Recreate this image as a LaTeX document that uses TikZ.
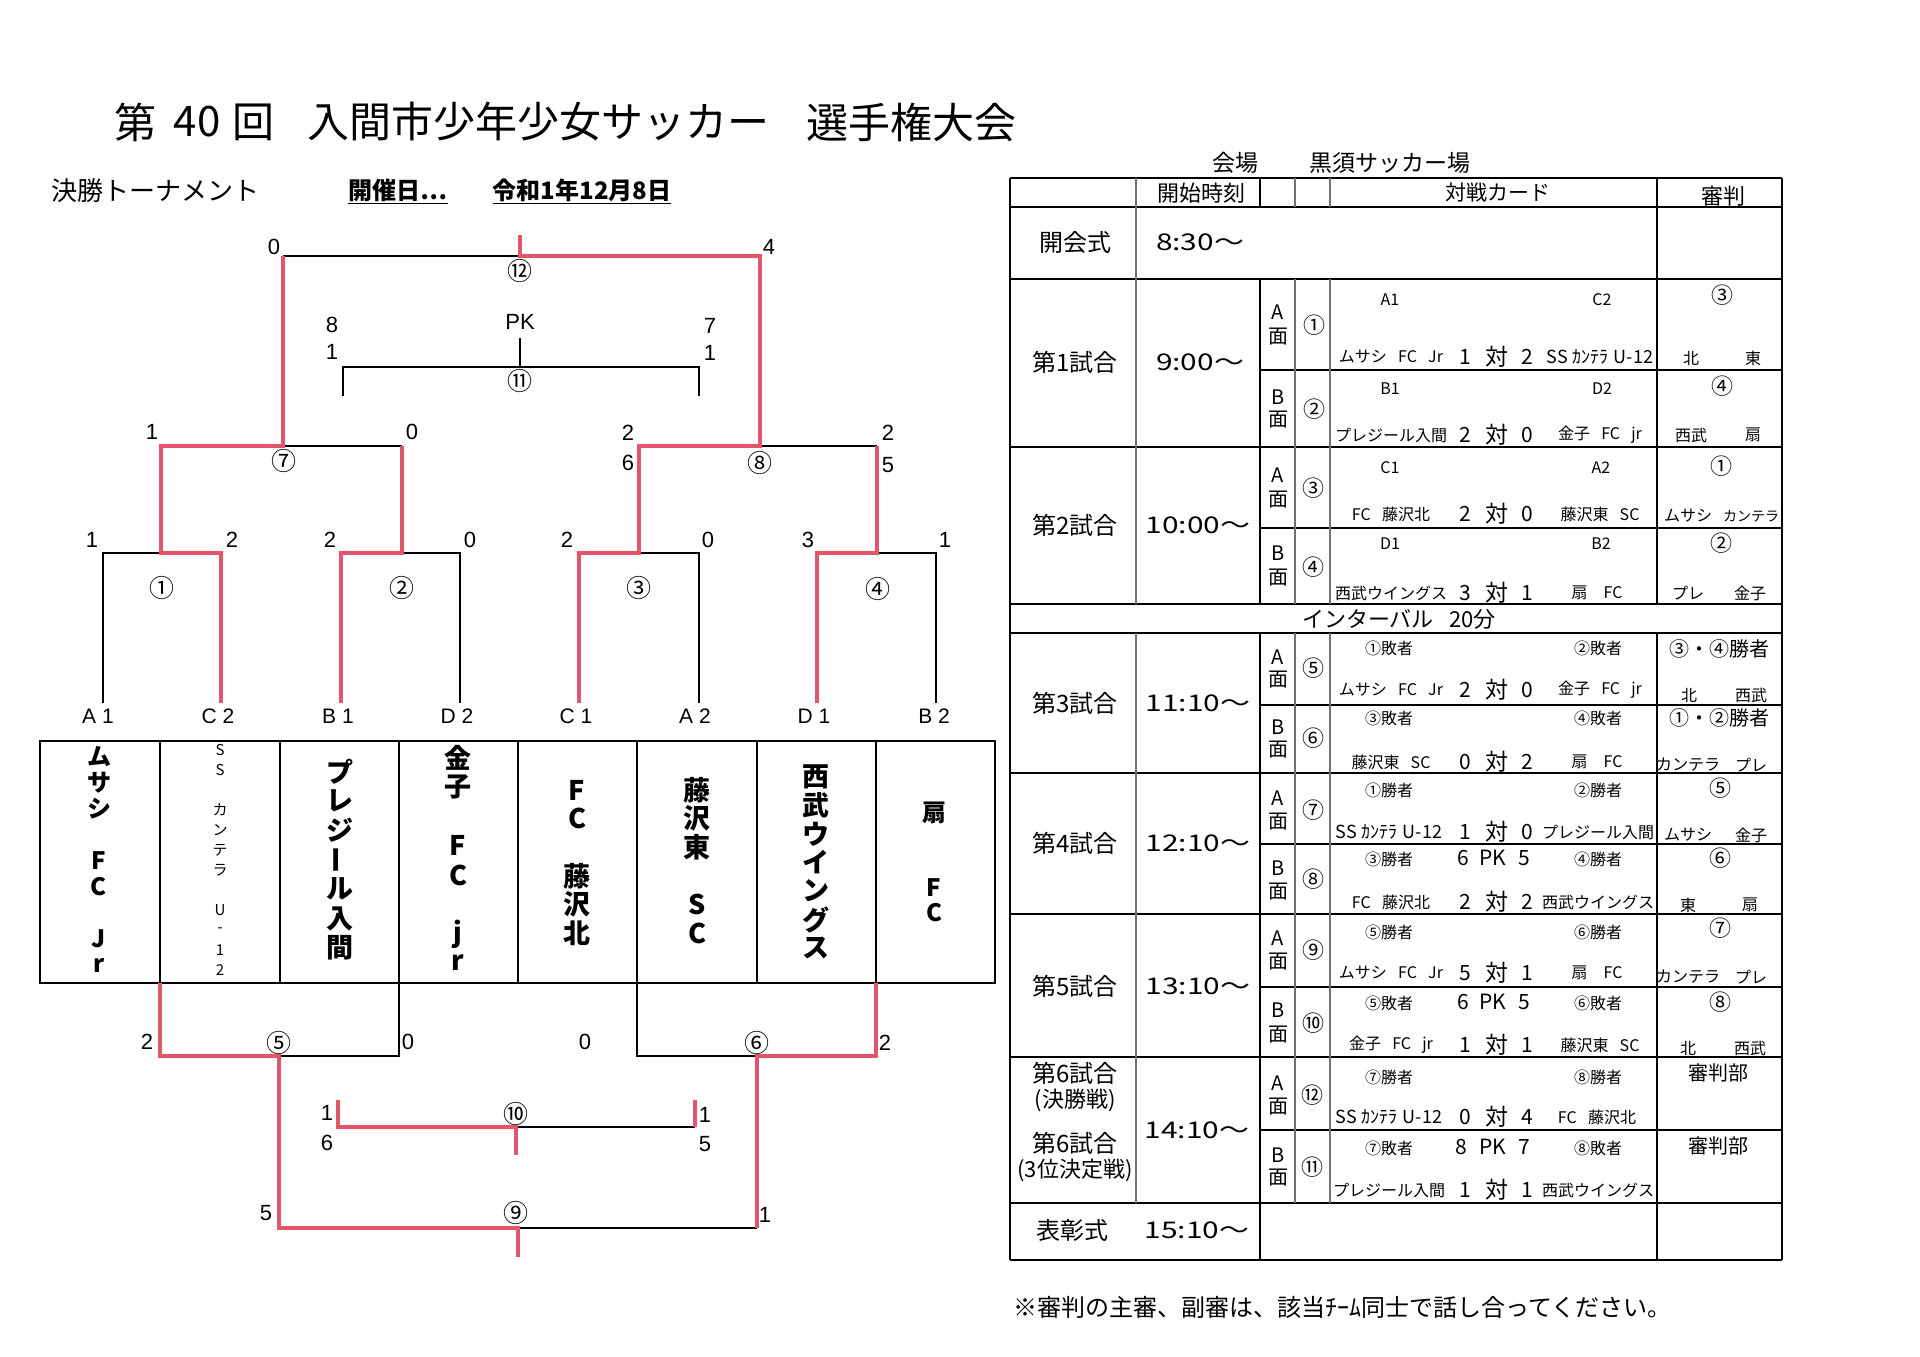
\documentclass[tikz,border=0pt]{standalone}
\usepackage{fontspec}
\setmainfont{Noto Sans CJK JP}
\newfontfamily\ar{Liberation Sans}
\usepackage{graphicx}
\definecolor{rl}{RGB}{226,86,108}
\newcommand{\FS}[1]{\fontsize{#1}{#1}\selectfont}
\newcommand{\tsp}{\hspace{0.7em}}
\newcommand{\vbar}{\rotatebox{90}{ー}}
\newcommand{\kantera}{{\FS{18}SS\hspace{5pt}ｶﾝﾃﾗ\hspace{5pt}U-12}}
% vertical team name: #1 name, #2 x, #3 first y, #4 pitch, #5 font size, #6 chars
\newcommand{\vcol}[6]{%
  \foreach \ch [count=\ii from 0] in {#6} {%
    \node[inner sep=0pt,font=\FS{#5}\bfseries] (#1-\ii) at (#2,{#3+\ii*#4}) {\ch};
  }}
\begin{document}
\begin{tikzpicture}[x=1pt,y=-1pt,
  bk/.style={line width=2pt,line join=miter},
  rd/.style={line width=3.6pt,draw=rl,line join=miter},
  tb/.style={line width=2.4pt},
  tbl/.style={line width=1.2pt,draw=black!55},
  num/.style={inner sep=0pt,font=\ar\FS{22}},
  cn/.style={inner sep=0pt,font=\FS{25}},
  code/.style={inner sep=0pt,font=\ar\FS{21}},
  ttl/.style={inner sep=0pt,font=\FS{42}},
  lab/.style={inner sep=0pt,font=\FS{24}},
  tim/.style={inner sep=0pt,font=\FS{23},xscale=1.3},
  hd/.style={inner sep=0pt,font=\FS{22}},
  ab/.style={inner sep=0pt,font=\FS{20}},
  cc/.style={inner sep=0pt,font=\FS{22}},
  cd/.style={inner sep=0pt,font=\FS{16}},
  tm/.style={inner sep=0pt,font=\FS{16}},
  sc/.style={inner sep=0pt,font=\FS{21}},
  tai/.style={inner sep=0pt,font=\FS{23}},
  rf/.style={inner sep=0pt,font=\FS{16}},
  rw/.style={inner sep=0pt,font=\FS{20}}
]
\fill[white] (0,0) rectangle (1920,1357);
\useasboundingbox (0,0) rectangle (1920,1357);

% ---------- title ----------
\node[ttl] (t1) at (135,122) {第};
\node[ttl] (t2) at (197,122) {40};
\node[ttl] (t3) at (253,122) {回};
\node[ttl] (t4) at (538,122) {入間市少年少女サッカー};
\node[ttl] (t5) at (911,122) {選手権大会};

\node[inner sep=0pt,font=\FS{26}] (s1) at (155,191) {決勝トーナメント};
\node[inner sep=0pt,font=\FS{24}\bfseries] (s2) at (398,190) {開催日…};
\node[inner sep=0pt,font=\FS{24}\bfseries] (s3) at (582,190) {令和1年12月8日};
\draw[line width=1.5pt] ([yshift=-2pt]s2.south west) -- ([yshift=-2pt]s2.south east);
\draw[line width=1.5pt] ([yshift=-2pt]s3.south west) -- ([yshift=-2pt]s3.south east);

% ---------- upper bracket ----------
\coordinate (L1) at (103,703); \coordinate (L2) at (221,703);
\coordinate (L3) at (341,703); \coordinate (L4) at (460,703);
\coordinate (L5) at (579,703); \coordinate (L6) at (699,703);
\coordinate (L7) at (817,703); \coordinate (L8) at (936,703);
\coordinate (M1) at (161,553); \coordinate (M2) at (402,553);
\coordinate (M3) at (639,553); \coordinate (M4) at (877,553);
\coordinate (M7) at (283,446); \coordinate (M8) at (760,446);
\coordinate (M12) at (520,256); \coordinate (F0) at (520,235);
\coordinate (P1) at (343,396); \coordinate (P2) at (699,396);
\coordinate (P0) at (520,338); \coordinate (M11) at (520,367);

\draw[bk] (L1) |- (M1);
\draw[bk] (L4) |- (M2);
\draw[bk] (L6) |- (M3);
\draw[bk] (L8) |- (M4);
\draw[bk] (M7) -- (M2 |- M7);
\draw[bk] (M4 |- M8) -- (M8);
\draw[bk] (M7 |- M12) -- (M12);
\draw[bk] (P1) |- (M11) -| (P2);
\draw[bk] (P0) -- (M11);

\draw[rd] (L2) |- (M1) |- (M7) -- (M7 |- M12);
\draw[rd] (L3) |- (M2) -- (M2 |- M7);
\draw[rd] (F0) -- (M12) -| (M8) -| (M3) -| (L5);
\draw[rd] (L7) |- (M4) -- (M4 |- M8);

\node[num] (u0) at (274,247) {0};
\node[num] (u4) at (769,247) {4};
\node[cn] (c12) at (520,271) {⑫};
\node[num] (pk) at (520,322) {PK};
\node[num] (u8) at (332,325) {8};
\node[num] (u1a) at (332,352) {1};
\node[num] (u7) at (710,326) {7};
\node[num] (u1b) at (710,353) {1};
\node[cn] (c11) at (520,381) {⑪};
\node[num] (s7a) at (152,432) {1};
\node[num] (s7b) at (412,432) {0};
\node[cn] (c7) at (284,461) {⑦};
\node[num] (s8a) at (628,433) {2};
\node[num] (s8b) at (628,463) {6};
\node[num] (s8c) at (888,433) {2};
\node[num] (s8d) at (888,465) {5};
\node[cn] (c8) at (760,463) {⑧};
\node[num] (r1a) at (92,540) {1};
\node[num] (r1b) at (232,540) {2};
\node[cn] (c1) at (162,588) {①};
\node[num] (r2a) at (330,540) {2};
\node[num] (r2b) at (470,540) {0};
\node[cn] (c2) at (402,588) {②};
\node[num] (r3a) at (567,540) {2};
\node[num] (r3b) at (708,540) {0};
\node[cn] (c3) at (639,588) {③};
\node[num] (r4a) at (808,540) {3};
\node[num] (r4b) at (945,540) {1};
\node[cn] (c4) at (878,589) {④};

\node[code] (k1) at (98,716) {A 1};
\node[code] (k2) at (218,716) {C 2};
\node[code] (k3) at (338,716) {B 1};
\node[code] (k4) at (457,716) {D 2};
\node[code] (k5) at (576,716) {C 1};
\node[code] (k6) at (695,716) {A 2};
\node[code] (k7) at (814,716) {D 1};
\node[code] (k8) at (934,716) {B 2};

% ---------- team box ----------
\draw[tb] (40,741) rectangle (995,983);
\foreach \xx in {160,280,399,518,637,757,876} \draw[line width=1.8pt] (\xx,741) -- (\xx,983);
\vcol{tA}{99}{757}{26}{24}{ム,サ,シ,{},F,C,{},J,r}
\begin{scope}
\foreach \ch [count=\ii from 0] in {S,S,{},カ,ン,テ,ラ,{},U,-,1,2} {%
  \node[inner sep=0pt,font=\FS{15}] (tB-\ii) at (220,{750+\ii*20}) {\ch};
}
\end{scope}
\vcol{tC}{340}{772}{29.3}{27}{プ,レ,ジ,\vbar,ル,入,間}
\vcol{tD}{458}{758}{29.3}{27}{金,子,{},F,C,{},j,r}
\vcol{tE}{577}{790}{28.6}{27}{F,C,{},藤,沢,北}
\vcol{tF}{697}{790}{28.6}{27}{藤,沢,東,{},S,C}
\vcol{tG}{816}{777}{28.5}{27}{西,武,ウ,イ,ン,グ,ス}
\vcol{tH}{934}{813}{25}{24}{扇,{},{},F,C}

% ---------- lower bracket ----------
\coordinate (B1) at (160,983); \coordinate (B3) at (399,983);
\coordinate (B5) at (637,983); \coordinate (B7) at (876,983);
\coordinate (M5) at (279,1056); \coordinate (M6) at (757,1056);
\coordinate (M9) at (518,1228); \coordinate (G9) at (518,1257);
\coordinate (Q1) at (338,1100); \coordinate (Q2) at (695,1100);
\coordinate (M10) at (516,1127); \coordinate (G10) at (516,1155);

\draw[bk] (B3) |- (M5);
\draw[bk] (B5) |- (M6);
\draw[bk] (M6 |- M9) -- (M9);
\draw[bk] (M10) -- (Q2 |- M10);
\draw[rd] (B1) |- (M5) |- (M9) -- (G9);
\draw[rd] (B7) |- (M6) -- (M6 |- M9);
\draw[rd] (Q1) |- (M10) -- (G10);
\draw[rd] (Q2) -- (Q2 |- M10);

\node[num] (l5a) at (147,1042) {2};
\node[cn] (c5) at (279,1043) {⑤};
\node[num] (l5b) at (408,1042) {0};
\node[num] (l6a) at (585,1042) {0};
\node[cn] (c6) at (757,1043) {⑥};
\node[num] (l6b) at (885,1043) {2};
\node[num] (l10a) at (327,1113) {1};
\node[num] (l10b) at (327,1143) {6};
\node[cn] (c10) at (516,1114) {⑩};
\node[num] (l10c) at (705,1115) {1};
\node[num] (l10d) at (705,1144) {5};
\node[num] (l9a) at (266,1213) {5};
\node[cn] (c9) at (516,1213) {⑨};
\node[num] (l9b) at (765,1215) {1};

% ---------- schedule table ----------
\node[inner sep=0pt,font=\FS{23}] (v1) at (1235,163) {会場};
\node[inner sep=0pt,font=\FS{23}] (v2) at (1390,163) {黒須サッカー場};

% horizontal rules
\foreach \yy in {178,207,279,447,604,633,773,914,1057,1203,1260}
  \draw[tb] (1010,\yy) -- (1782,\yy);
\foreach \yy in {370,528,705,844,987,1130}
  \draw[line width=2pt] (1260,\yy) -- (1782,\yy);
% vertical rules
\draw[tb] (1010,178) -- (1010,1260);
\draw[tb] (1782,178) -- (1782,1260);
\draw[tbl] (1136,178) -- (1136,604);
\draw[tbl] (1136,633) -- (1136,1203);
\draw[line width=2pt] (1260,178) -- (1260,207);
\draw[line width=2pt] (1260,279) -- (1260,604);
\draw[line width=2pt] (1260,633) -- (1260,1260);
\draw[tbl] (1295,178) -- (1295,207);
\draw[tbl] (1295,279) -- (1295,604);
\draw[tbl] (1295,633) -- (1295,1203);
\draw[tbl] (1330,178) -- (1330,207);
\draw[tbl] (1330,279) -- (1330,604);
\draw[tbl] (1330,633) -- (1330,1203);
\draw[tb] (1657,178) -- (1657,604);
\draw[tb] (1657,633) -- (1657,1260);

% header
\node[hd] (h1) at (1201,193) {開始時刻};
\node[inner sep=0pt,font=\FS{21}] (h2) at (1498,193) {対戦カード};
\node[hd] (h3) at (1723,196) {審判};

% 開会式
\node[lab] (o1) at (1075,242) {開会式};
\node[tim] (o2) at (1200,242) {8:30～};

% 第1試合
\node[lab] (g1) at (1075,362) {第1試合};
\node[tim] (g1t) at (1200,362) {9:00～};
\node[ab] (g1aA) at (1278,312) {A}; \node[ab] (g1aM) at (1278,337) {面};
\node[cc] (g1aC) at (1314,325) {①};
\node[cd] (g1ac1) at (1390,300) {A1}; \node[cd] (g1ac2) at (1602,300) {C2};
\node[tm] (g1at1) at (1391,357) {ムサシ\tsp FC\tsp Jr};
\node[sc] (g1as1) at (1465,357) {1}; \node[tai] (g1av) at (1497,357) {対}; \node[sc] (g1as2) at (1527,357) {2};
\node[tm] (g1at2) at (1600,357) {\kantera};
\node[cc] (g1ar) at (1722,295) {③};
\node[rf] (g1ar1) at (1691,358) {北}; \node[rf] (g1ar2) at (1753,358) {東};
\node[ab] (g1bB) at (1278,397) {B}; \node[ab] (g1bM) at (1278,420) {面};
\node[cc] (g1bC) at (1314,409) {②};
\node[cd] (g1bc1) at (1390,389) {B1}; \node[cd] (g1bc2) at (1602,389) {D2};
\node[tm] (g1bt1) at (1391,435) {プレジール入間};
\node[sc] (g1bs1) at (1465,435) {2}; \node[tai] (g1bv) at (1497,435) {対}; \node[sc] (g1bs2) at (1527,435) {0};
\node[tm] (g1bt2) at (1600,435) {金子\tsp FC\tsp jr};
\node[cc] (g1br) at (1722,386) {④};
\node[rf] (g1br1) at (1691,435) {西武}; \node[rf] (g1br2) at (1753,435) {扇};

% 第2試合
\node[lab] (g2) at (1075,525) {第2試合};
\node[tim] (g2t) at (1198,525) {10:00～};
\node[ab] (g2aA) at (1278,475) {A}; \node[ab] (g2aM) at (1278,500) {面};
\node[cc] (g2aC) at (1313,488) {③};
\node[cd] (g2ac1) at (1390,468) {C1}; \node[cd] (g2ac2) at (1601,468) {A2};
\node[tm] (g2at1) at (1391,514) {FC\tsp 藤沢北};
\node[sc] (g2as1) at (1465,514) {2}; \node[tai] (g2av) at (1497,514) {対}; \node[sc] (g2as2) at (1527,514) {0};
\node[tm] (g2at2) at (1600,514) {藤沢東\tsp SC};
\node[cc] (g2ar) at (1721,466) {①};
\node[rf] (g2ar1) at (1688,516) {ムサシ}; \node[inner sep=0pt,font=\FS{14}] (g2ar2) at (1751,516) {カンテラ};
\node[ab] (g2bB) at (1278,553) {B}; \node[ab] (g2bM) at (1278,578) {面};
\node[cc] (g2bC) at (1313,567) {④};
\node[cd] (g2bc1) at (1390,544) {D1}; \node[cd] (g2bc2) at (1601,544) {B2};
\node[tm] (g2bt1) at (1391,593) {西武ウイングス};
\node[sc] (g2bs1) at (1465,593) {3}; \node[tai] (g2bv) at (1497,593) {対}; \node[sc] (g2bs2) at (1527,593) {1};
\node[tm] (g2bt2) at (1597,593) {扇　FC};
\node[cc] (g2br) at (1721,543) {②};
\node[rf] (g2br1) at (1688,593) {プレ}; \node[rf] (g2br2) at (1750,593) {金子};

% interval
\node[inner sep=0pt,font=\FS{22}] (iv) at (1399,619) {インターバル\tsp 20分};

% 第3試合
\node[lab] (g3) at (1075,703) {第3試合};
\node[tim] (g3t) at (1198,703) {11:10～};
\node[ab] (g3aA) at (1278,657) {A}; \node[ab] (g3aM) at (1278,680) {面};
\node[cc] (g3aC) at (1313,668) {⑤};
\node[cd] (g3ac1) at (1389,648) {①敗者}; \node[cd] (g3ac2) at (1598,648) {②敗者};
\node[tm] (g3at1) at (1391,690) {ムサシ\tsp FC\tsp Jr};
\node[sc] (g3as1) at (1465,690) {2}; \node[tai] (g3av) at (1497,690) {対}; \node[sc] (g3as2) at (1527,690) {0};
\node[tm] (g3at2) at (1600,690) {金子\tsp FC\tsp jr};
\node[rw] (g3ar) at (1719,649) {③・④勝者};
\node[rf] (g3ar1) at (1689,695) {北}; \node[rf] (g3ar2) at (1751,695) {西武};
\node[ab] (g3bB) at (1278,727) {B}; \node[ab] (g3bM) at (1278,750) {面};
\node[cc] (g3bC) at (1313,738) {⑥};
\node[cd] (g3bc1) at (1389,718) {③敗者}; \node[cd] (g3bc2) at (1598,718) {④敗者};
\node[tm] (g3bt1) at (1391,762) {藤沢東\tsp SC};
\node[sc] (g3bs1) at (1465,762) {0}; \node[tai] (g3bv) at (1497,762) {対}; \node[sc] (g3bs2) at (1527,762) {2};
\node[tm] (g3bt2) at (1597,762) {扇　FC};
\node[rw] (g3br) at (1719,718) {①・②勝者};
\node[rf] (g3br1) at (1688,765) {カンテラ}; \node[rf] (g3br2) at (1751,765) {プレ};

% 第4試合
\node[lab] (g4) at (1075,843) {第4試合};
\node[tim] (g4t) at (1198,843) {12:10～};
\node[ab] (g4aA) at (1278,798) {A}; \node[ab] (g4aM) at (1278,822) {面};
\node[cc] (g4aC) at (1313,810) {⑦};
\node[cd] (g4ac1) at (1389,790) {①勝者}; \node[cd] (g4ac2) at (1598,790) {②勝者};
\node[tm] (g4at1) at (1389,832) {\kantera};
\node[sc] (g4as1) at (1465,832) {1}; \node[tai] (g4av) at (1497,832) {対}; \node[sc] (g4as2) at (1527,832) {0};
\node[tm] (g4at2) at (1598,832) {プレジール入間};
\node[cc] (g4ar) at (1720,788) {⑤};
\node[rf] (g4ar1) at (1688,835) {ムサシ}; \node[rf] (g4ar2) at (1751,835) {金子};
\node[ab] (g4bB) at (1278,868) {B}; \node[ab] (g4bM) at (1278,892) {面};
\node[cc] (g4bC) at (1313,879) {⑧};
\node[cd] (g4bc1) at (1389,859) {③勝者}; \node[cd] (g4bc2) at (1598,859) {④勝者};
\node[sc] (g4bp1) at (1463,858) {6}; \node[sc] (g4bpk) at (1493,858) {PK}; \node[sc] (g4bp2) at (1524,858) {5};
\node[tm] (g4bt1) at (1391,902) {FC\tsp 藤沢北};
\node[sc] (g4bs1) at (1465,902) {2}; \node[tai] (g4bv) at (1497,902) {対}; \node[sc] (g4bs2) at (1527,902) {2};
\node[tm] (g4bt2) at (1598,902) {西武ウイングス};
\node[cc] (g4br) at (1720,858) {⑥};
\node[rf] (g4br1) at (1688,905) {東}; \node[rf] (g4br2) at (1750,905) {扇};

% 第5試合
\node[lab] (g5) at (1075,986) {第5試合};
\node[tim] (g5t) at (1198,986) {13:10～};
\node[ab] (g5aA) at (1278,938) {A}; \node[ab] (g5aM) at (1278,962) {面};
\node[cc] (g5aC) at (1313,950) {⑨};
\node[cd] (g5ac1) at (1389,932) {⑤勝者}; \node[cd] (g5ac2) at (1598,932) {⑥勝者};
\node[tm] (g5at1) at (1391,973) {ムサシ\tsp FC\tsp Jr};
\node[sc] (g5as1) at (1465,973) {5}; \node[tai] (g5av) at (1497,973) {対}; \node[sc] (g5as2) at (1527,973) {1};
\node[tm] (g5at2) at (1597,973) {扇　FC};
\node[cc] (g5ar) at (1720,928) {⑦};
\node[rf] (g5ar1) at (1688,977) {カンテラ}; \node[rf] (g5ar2) at (1751,977) {プレ};
\node[ab] (g5bB) at (1278,1010) {B}; \node[ab] (g5bM) at (1278,1035) {面};
\node[cc] (g5bC) at (1313,1023) {⑩};
\node[cd] (g5bc1) at (1389,1003) {⑤敗者}; \node[cd] (g5bc2) at (1598,1003) {⑥敗者};
\node[sc] (g5bp1) at (1463,1002) {6}; \node[sc] (g5bpk) at (1493,1002) {PK}; \node[sc] (g5bp2) at (1524,1002) {5};
\node[tm] (g5bt1) at (1391,1045) {金子\tsp FC\tsp jr};
\node[sc] (g5bs1) at (1465,1045) {1}; \node[tai] (g5bv) at (1497,1045) {対}; \node[sc] (g5bs2) at (1527,1045) {1};
\node[tm] (g5bt2) at (1600,1045) {藤沢東\tsp SC};
\node[cc] (g5br) at (1720,1002) {⑧};
\node[rf] (g5br1) at (1688,1048) {北}; \node[rf] (g5br2) at (1750,1048) {西武};

% 第6試合
\node[lab] (g6a) at (1075,1073) {第6試合};
\node[inner sep=0pt,font=\FS{22}] (g6a2) at (1075,1100) {(決勝戦)};
\node[lab] (g6b) at (1075,1143) {第6試合};
\node[inner sep=0pt,font=\FS{22}] (g6b2) at (1075,1170) {(3位決定戦)};
\node[tim] (g6t) at (1197,1130) {14:10～};
\node[ab] (g6aA) at (1278,1083) {A}; \node[ab] (g6aM) at (1278,1107) {面};
\node[cc] (g6aC) at (1312,1095) {⑫};
\node[cd] (g6ac1) at (1389,1077) {⑦勝者}; \node[cd] (g6ac2) at (1598,1077) {⑧勝者};
\node[tm] (g6at1) at (1389,1117) {\kantera};
\node[sc] (g6as1) at (1465,1117) {0}; \node[tai] (g6av) at (1497,1117) {対}; \node[sc] (g6as2) at (1527,1117) {4};
\node[tm] (g6at2) at (1597,1117) {FC\tsp 藤沢北};
\node[rw] (g6ar) at (1718,1073) {審判部};
\node[ab] (g6bB) at (1278,1155) {B}; \node[ab] (g6bM) at (1278,1178) {面};
\node[cc] (g6bC) at (1312,1167) {⑪};
\node[cd] (g6bc1) at (1389,1148) {⑦敗者}; \node[cd] (g6bc2) at (1598,1148) {⑧敗者};
\node[sc] (g6bp1) at (1461,1147) {8}; \node[sc] (g6bpk) at (1493,1147) {PK}; \node[sc] (g6bp2) at (1524,1147) {7};
\node[tm] (g6bt1) at (1389,1190) {プレジール入間};
\node[sc] (g6bs1) at (1465,1190) {1}; \node[tai] (g6bv) at (1497,1190) {対}; \node[sc] (g6bs2) at (1527,1190) {1};
\node[tm] (g6bt2) at (1598,1190) {西武ウイングス};
\node[rw] (g6br) at (1718,1146) {審判部};

% 表彰式
\node[lab] (aw) at (1072,1230) {表彰式};
\node[tim] (awt) at (1197,1230) {15:10～};

% footer
\node[inner sep=0pt,font=\FS{24},anchor=west] (ft) at (1013,1307) {※審判の主審、副審は、該当ﾁｰﾑ同士で話し合ってください。};
\end{tikzpicture}
\end{document}
